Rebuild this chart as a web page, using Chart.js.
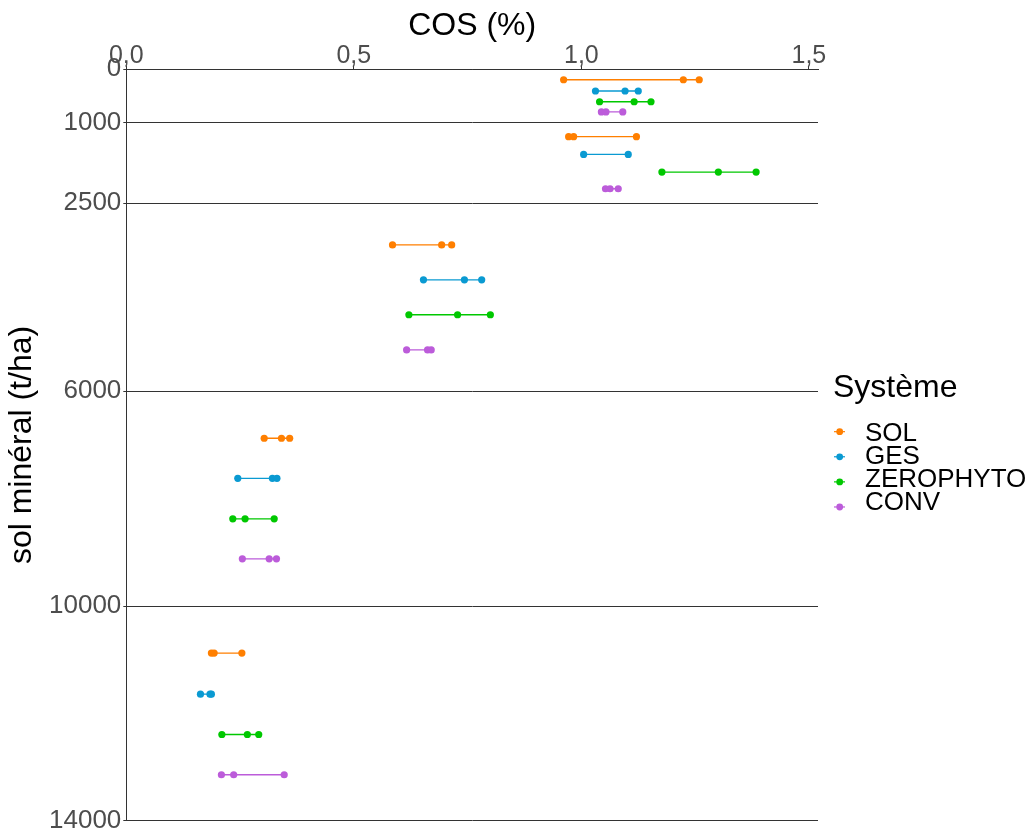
<!DOCTYPE html>
<html>
<head>
<meta charset="utf-8">
<script src="https://cdn.jsdelivr.net/npm/chart.js@4"></script>
<style>
body { margin: 0; background: #fff; }
#cadre { width: 1032px; height: 834px; }
</style>
</head>
<body>
<div id="cadre"><canvas id="graphique"></canvas></div>
<script>
//Systèmes et couleurs
const systemes = ['SOL', 'GES', 'ZEROPHYTO', 'CONV'];
const couleurs = ['#FF7F00', '#0A9AD2', '#00C800', '#BC5CDA'];

//Graduations
const ticksCos = [0, 0.5, 1, 1.5];
const ticksProf = [0, 1000, 2500, 6000, 10000, 14000];

//Position (t/ha) de chaque ligne, une valeur par horizon
const profSOL = [200, 1260, 3275, 6875, 10875];
const profGES = [410, 1590, 3925, 7620, 11640];
const profZERO = [610, 1920, 4575, 8375, 12390];
const profCONV = [800, 2230, 5230, 9120, 13140];

//COS (%) par horizon
const cosSOL = [[0.961, 1.224, 1.259], [0.972, 0.983, 1.121], [0.585, 0.693, 0.715], [0.303, 0.341, 0.359], [0.187, 0.193, 0.254]];
const cosGES = [[1.031, 1.096, 1.125], [1.005, 1.103], [0.653, 0.743, 0.781], [0.245, 0.321, 0.331], [0.163, 0.184, 0.187]];
const cosZERO = [[1.040, 1.116, 1.153], [1.177, 1.301, 1.384], [0.621, 0.728, 0.800], [0.234, 0.261, 0.325], [0.210, 0.266, 0.291]];
const cosCONV = [[1.044, 1.054, 1.091], [1.053, 1.063, 1.081], [0.616, 0.662, 0.670], [0.255, 0.314, 0.330], [0.209, 0.236, 0.347]];

const police = '"Liberation Sans", Arial, sans-serif';
Chart.defaults.font.family = police;

//Points d'une série, un segment par horizon
function serie(prof, cos) {
    var pts = [];
    cos.forEach((valeurs, i) => {
        valeurs.forEach(v => pts.push({ x: v, y: prof[i] }));
        pts.push({ x: null, y: null });
    });
    return pts;
}

function dataset(i, prof, cos) {
    return {
        label: systemes[i],
        data: serie(prof, cos),
        showLine: true,
        spanGaps: false,
        borderColor: couleurs[i],
        backgroundColor: couleurs[i],
        borderWidth: 1.3,
        pointRadius: 3.6,
        pointBorderWidth: 0,
        pointHoverRadius: 3.6
    };
}

//Légende à droite
const legendeSysteme = {
    id: 'legendeSysteme',
    afterDraw(chart) {
        const ctx = chart.ctx;
        const zone = chart.chartArea;
        const x0 = zone.right + 15;
        const milieu = (zone.top + zone.bottom) / 2;
        ctx.save();
        ctx.textAlign = 'left';
        ctx.textBaseline = 'middle';
        ctx.fillStyle = '#000';
        ctx.font = '32px ' + police;
        ctx.fillText('Système', x0, milieu - 57);
        ctx.font = '26px ' + police;
        chart.data.datasets.forEach((ds, i) => {
            var yPoint = milieu - 13.3 + i * 25.1;
            ctx.strokeStyle = ds.borderColor;
            ctx.lineWidth = 1.2;
            ctx.beginPath();
            ctx.moveTo(x0 + 1, yPoint);
            ctx.lineTo(x0 + 12, yPoint);
            ctx.stroke();
            ctx.fillStyle = ds.backgroundColor;
            ctx.beginPath();
            ctx.arc(x0 + 6.7, yPoint, 3.4, 0, 2 * Math.PI);
            ctx.fill();
            ctx.fillStyle = '#000';
            ctx.fillText(ds.label, x0 + 32, milieu - 11.3 + i * 23.2);
        });
        ctx.restore();
    }
};

new Chart(document.getElementById('graphique'), {
    type: 'scatter',
    data: {
        datasets: [
            dataset(0, profSOL, cosSOL),
            dataset(1, profGES, cosGES),
            dataset(2, profZERO, cosZERO),
            dataset(3, profCONV, cosCONV)
        ]
    },
    options: {
        responsive: true,
        maintainAspectRatio: false,
        animation: false,
        layout: { padding: { top: 0, left: 0, right: 214, bottom: 13 } },
        plugins: {
            legend: { display: false },
            tooltip: { enabled: false }
        },
        scales: {
            x: {
                type: 'linear',
                position: 'top',
                min: 0,
                max: 1.52,
                afterBuildTicks: axe => { axe.ticks = ticksCos.map(v => ({ value: v })); },
                ticks: {
                    callback: v => v.toFixed(1).replace('.', ','),
                    font: { size: 25, lineHeight: 0.76 },
                    color: '#4D4D4D',
                    padding: 0,
                    maxRotation: 0
                },
                grid: { drawOnChartArea: false, color: '#333333', tickLength: 3 },
                border: { display: true, color: '#333333', width: 1 },
                title: {
                    display: true,
                    text: 'COS (%)',
                    color: '#000',
                    font: { size: 32, lineHeight: 1 },
                    padding: { top: 10.5, bottom: 4.5 }
                }
            },
            y: {
                type: 'linear',
                reverse: true,
                min: 0,
                max: 14000,
                afterBuildTicks: axe => { axe.ticks = ticksProf.map(v => ({ value: v })); },
                ticks: {
                    callback: v => String(v),
                    font: { size: 26, lineHeight: 0.85 },
                    color: '#4D4D4D',
                    padding: 2
                },
                grid: { color: '#333333', lineWidth: 1, tickLength: 3 },
                border: { display: true, color: '#333333', width: 1 },
                title: {
                    display: true,
                    text: 'sol minéral (t/ha)',
                    color: '#000',
                    font: { size: 32, lineHeight: 1 },
                    padding: { top: 6, bottom: 9 }
                }
            }
        }
    },
    plugins: [legendeSysteme]
});
</script>
</body>
</html>
